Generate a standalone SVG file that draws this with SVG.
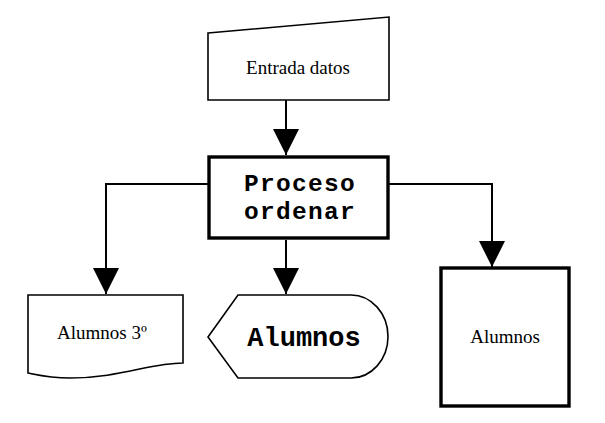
<svg xmlns="http://www.w3.org/2000/svg" width="605" height="423" viewBox="0 0 605 423">
<defs>
<style>
.shape{fill:#fff;stroke:#000;stroke-width:1.6;stroke-linejoin:miter}
.thick{fill:#fff;stroke:#000;stroke-width:3.4}
.serif{font-family:"Liberation Serif","Times New Roman",serif;font-size:19px;fill:#000;text-anchor:middle}
.mono{font-family:"Liberation Mono","Courier New",monospace;font-size:27px;font-weight:bold;fill:#000;text-anchor:middle}
.mono2{font-size:24.5px;letter-spacing:1.3px}
.conn{fill:none;stroke:#000;stroke-width:2}
</style>
<marker id="arr" markerUnits="userSpaceOnUse" markerWidth="28" markerHeight="28" viewBox="0 0 28 28" refX="26" refY="14" orient="auto">
<path d="M0,1 L26,14 L0,27 Z" fill="#000"/>
</marker>
</defs>
<rect width="605" height="423" fill="#fff"/>
<g id="connectors">
<path class="conn" d="M286,100 L286,155" marker-end="url(#arr)"/>
<path class="conn" d="M209,184 L106,184 L106,294" marker-end="url(#arr)"/>
<path class="conn" d="M286,240 L286,294" marker-end="url(#arr)"/>
<path class="conn" d="M389,184 L492,184 L492,267" marker-end="url(#arr)"/>
</g>
<g id="entrada">
<path class="shape" d="M208,33 L389,17 L389,100 L208,100 Z"/>
<text class="serif" x="298" y="74">Entrada datos</text>
</g>
<g id="proceso">
<rect class="thick" x="209" y="157" width="179" height="81"/>
<text class="mono mono2" x="300" y="191">Proceso</text>
<text class="mono mono2" x="300" y="219">ordenar</text>
</g>
<g id="documento">
<path class="shape" d="M28,295 L183,295 L183,363 C150,363 120,378 70,378 C50,378 38,375 28,373 Z"/>
<text class="serif" x="102" y="339">Alumnos 3º</text>
</g>
<g id="pantalla">
<path class="shape" d="M208,337 L238,295 L351,295 A37,41.5 0 0 1 351,378 L238,378 Z"/>
<text class="mono" x="304" y="346">Alumnos</text>
</g>
<g id="alumnos">
<rect class="thick" x="441" y="268" width="128" height="138"/>
<text class="serif" x="505" y="343">Alumnos</text>
</g>
</svg>
